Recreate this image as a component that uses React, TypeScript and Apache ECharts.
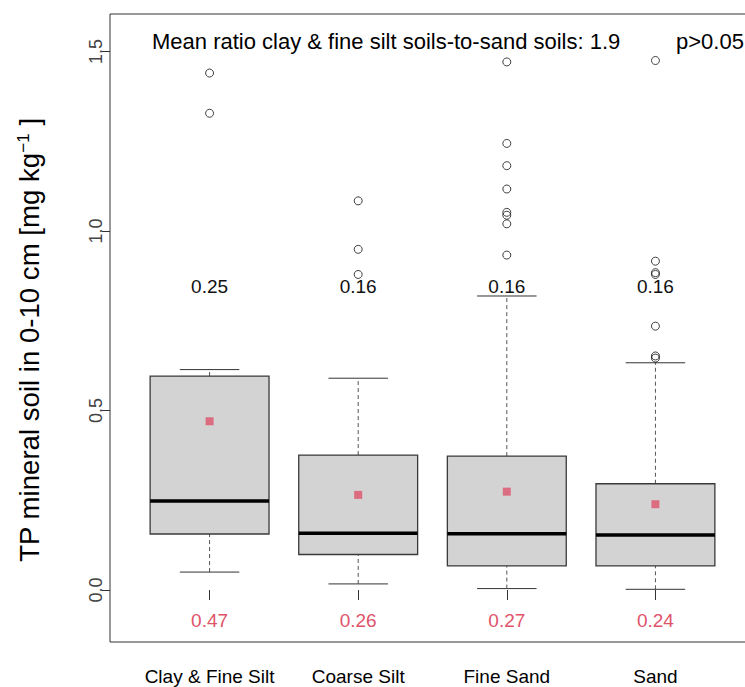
import React, { useEffect, useRef } from "react";
import * as echarts from "echarts";

const categories = ["Clay & Fine Silt", "Coarse Silt", "Fine Sand", "Sand"];
const whiskerLow = [0.05, 0.017, 0.004, 0.002];
const q1 = [0.156, 0.099, 0.067, 0.067];
const medians = [0.248, 0.158, 0.157, 0.153];
const q3 = [0.596, 0.376, 0.373, 0.296];
const whiskerHigh = [0.614, 0.59, 0.819, 0.633];
const means = [0.47, 0.265, 0.274, 0.239];
const medianLabels = ["0.25", "0.16", "0.16", "0.16"];
const meanLabels = ["0.47", "0.26", "0.27", "0.24"];
const outliersClay = [1.44, 1.328];
const outliersCoarseSilt = [1.084, 0.949, 0.879];
const outliersFineSand = [1.471, 1.244, 1.182, 1.117, 1.052, 1.044, 1.02, 0.933];
const outliersSand = [1.475, 0.916, 0.884, 0.879, 0.735, 0.652, 0.646];
const outlierGroups = [outliersClay, outliersCoarseSilt, outliersFineSand, outliersSand];
const yTicks = [0, 0.5, 1.0, 1.5];
const medianLabelY = 0.845;
const meanLabelY = -0.086;
const annotationText = "Mean ratio clay & fine silt soils-to-sand soils: 1.9";
const pText = "p>0.05";

const FONT = '"Liberation Sans", Arial, Helvetica, sans-serif';
const Y_MIN = -0.1448;
const Y_MAX = 1.6045;
const PINK = "#DF536B";

export default function App() {
  const ref = useRef<HTMLDivElement>(null);
  useEffect(() => {
    if (!ref.current) return;
    const chart = echarts.init(ref.current, undefined, { renderer: "svg" });

    const boxData = categories.map((_, i) => [i + 1, whiskerLow[i], q1[i], medians[i], q3[i], whiskerHigh[i]]);
    const outlierData: number[][] = [];
    outlierGroups.forEach((g, i) => g.forEach((v) => outlierData.push([i + 1, v])));
    const meanData = means.map((m, i) => [i + 1, m]);
    const textData: any[] = [];
    categories.forEach((_, i) => {
      textData.push({ value: [i + 1, medianLabelY], label: medianLabels[i], color: "#111" });
      textData.push({ value: [i + 1, meanLabelY], label: meanLabels[i], color: PINK });
    });

    const option: any = {
      animation: false,
      grid: {
        left: 110,
        top: 14,
        width: 645,
        height: 628,
        show: true,
        borderColor: "#333",
        borderWidth: 1,
        backgroundColor: "transparent",
      },
      xAxis: {
        type: "value",
        min: 0.33,
        max: 4.67,
        axisLine: { show: false },
        splitLine: { show: false },
        axisTick: { show: true, length: 10, lineStyle: { color: "#333" }, customValues: [1, 2, 3, 4] },
        axisLabel: {
          customValues: [1, 2, 3, 4],
          formatter: (v: number) => categories[Math.round(v) - 1],
          margin: 25,
          fontSize: 19,
          color: "#000",
          fontFamily: FONT,
        },
      },
      yAxis: {
        type: "value",
        min: Y_MIN,
        max: Y_MAX,
        axisLine: { show: false },
        splitLine: { show: false },
        axisTick: { show: true, length: 8, lineStyle: { color: "#333" }, customValues: yTicks },
        axisLabel: {
          customValues: yTicks,
          rotate: 90,
          formatter: (v: number) => v.toFixed(1),
          margin: 5,
          fontSize: 18,
          color: "#444",
          fontFamily: FONT,
        },
      },
      graphic: [
        {
          type: "text",
          left: 152,
          top: 30,
          style: { text: annotationText, fill: "#000", fontSize: 22, fontFamily: FONT },
        },
        {
          type: "text",
          left: 676,
          top: 30,
          style: { text: pText, fill: "#000", fontSize: 22, fontFamily: FONT },
        },
        {
          type: "text",
          x: 29,
          y: 340,
          rotation: Math.PI / 2,
          style: {
            text: "{a|TP mineral soil in 0-10 cm [mg kg}{s|−1}{a| ]}",
            fill: "#000",
            align: "center",
            verticalAlign: "middle",
            rich: {
              a: { fontSize: 27.6, fontFamily: FONT, fill: "#000", lineHeight: 28 },
              s: { fontSize: 17, fontFamily: FONT, fill: "#000", lineHeight: 17, verticalAlign: "top" },
            },
          },
        },
      ],
      series: [
        {
          type: "custom",
          data: boxData,
          renderItem: (params: any, api: any) => {
            const x = api.value(0);
            const lo = api.coord([x, api.value(1)]);
            const b1 = api.coord([x, api.value(2)]);
            const md = api.coord([x, api.value(3)]);
            const b3 = api.coord([x, api.value(4)]);
            const hi = api.coord([x, api.value(5)]);
            const w = api.size([0.8, 0])[0];
            const cx = lo[0];
            const hw = w / 2;
            const cw = w / 4;
            const dash = { stroke: "#555", lineWidth: 1, lineDash: [4, 3] };
            const solid = { stroke: "#333", lineWidth: 1 };
            return {
              type: "group",
              children: [
                { type: "line", shape: { x1: cx, y1: lo[1], x2: cx, y2: b1[1] }, style: dash },
                { type: "line", shape: { x1: cx, y1: b3[1], x2: cx, y2: hi[1] }, style: dash },
                { type: "line", shape: { x1: cx - cw, y1: lo[1], x2: cx + cw, y2: lo[1] }, style: solid },
                { type: "line", shape: { x1: cx - cw, y1: hi[1], x2: cx + cw, y2: hi[1] }, style: solid },
                {
                  type: "rect",
                  shape: { x: cx - hw, y: b3[1], width: w, height: b1[1] - b3[1] },
                  style: { fill: "#D3D3D3", stroke: "#3a3a3a", lineWidth: 1.3 },
                },
                {
                  type: "line",
                  shape: { x1: cx - hw, y1: md[1], x2: cx + hw, y2: md[1] },
                  style: { stroke: "#000", lineWidth: 3.5 },
                },
              ],
            };
          },
          z: 2,
        },
        {
          type: "scatter",
          data: outlierData,
          symbol: "circle",
          symbolSize: 8,
          itemStyle: { color: "rgba(0,0,0,0)", borderColor: "#111", borderWidth: 1 },
          z: 3,
        },
        {
          type: "scatter",
          data: meanData,
          symbol: "rect",
          symbolSize: 8,
          itemStyle: { color: PINK },
          z: 4,
        },
        {
          type: "custom",
          data: textData.map((d) => d.value),
          renderItem: (params: any, api: any) => {
            const p = api.coord([api.value(0), api.value(1)]);
            const d = textData[params.dataIndex];
            return {
              type: "text",
              x: p[0],
              y: p[1],
              style: {
                text: d.label,
                fill: d.color,
                fontSize: 19,
                fontFamily: FONT,
                align: "center",
                verticalAlign: "middle",
              },
            };
          },
          z: 5,
        },
      ],
    };
    chart.setOption(option);
    return () => chart.dispose();
  }, []);

  return (
    <div style={{ position: "fixed", left: 0, top: 0, width: 745, height: 687, overflow: "hidden", background: "#fff" }}>
      <div ref={ref} style={{ width: 770, height: 687 }} />
    </div>
  );
}
